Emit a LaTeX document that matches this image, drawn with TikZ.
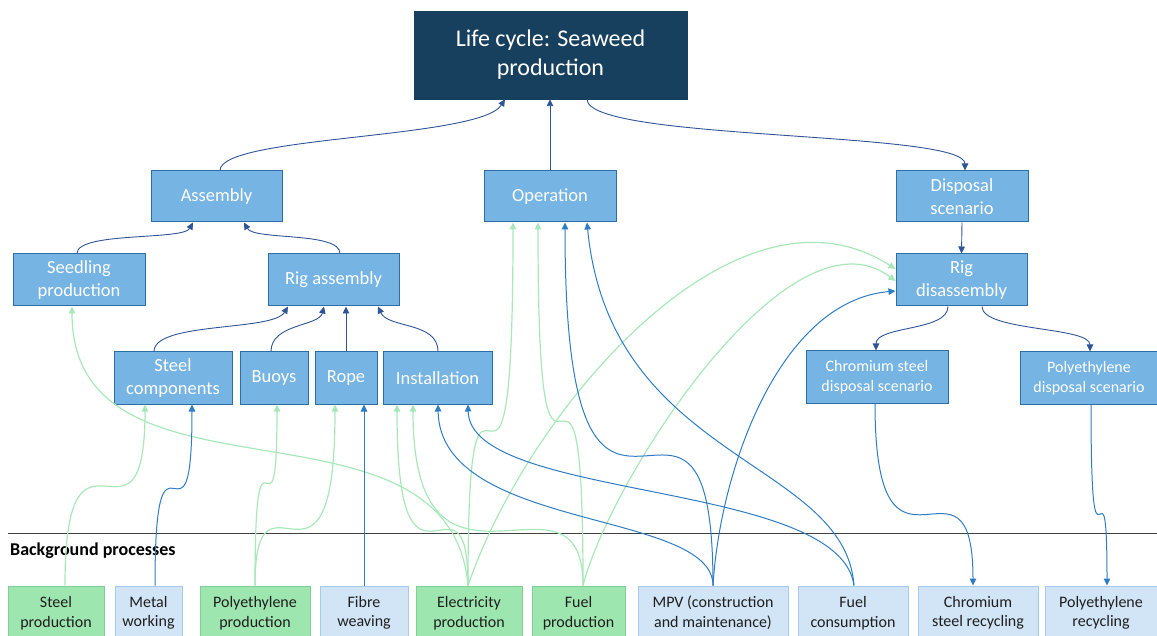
\documentclass[tikz,border=0pt]{standalone}
\usepackage{fontspec}
\setmainfont{Carlito}
\usepackage{tikz}
\usetikzlibrary{arrows.meta,positioning,calc}
\definecolor{navy}{HTML}{17405E}
\definecolor{midblue}{HTML}{75B4E3}
\definecolor{midrule}{HTML}{2F6EA5}
\definecolor{bggreen}{HTML}{9EE6AF}
\definecolor{bggreenrule}{HTML}{80CF96}
\definecolor{bgblue}{HTML}{D1E5F6}
\definecolor{bgbluerule}{HTML}{A5CAEB}
\definecolor{darkarr}{HTML}{2F5597}
\definecolor{bluearr}{HTML}{2E7CC4}
\definecolor{greenarr}{HTML}{A8E8B8}
\definecolor{sepline}{HTML}{404040}
\definecolor{inktext}{HTML}{1E1E1E}

\begin{document}
\begin{tikzpicture}[x=1pt, y=-1pt,
  box/.style={draw=midrule, fill=midblue, line width=1pt, text=white, minimum height=52pt,
              inner sep=0pt, align=center, font=\fontsize{18.5}{23}\selectfont},
  smallbox/.style={box, font=\fontsize{16}{20}\selectfont},
  headbox/.style={draw=navy, fill=navy, text=white, minimum width=273pt, minimum height=88pt,
              inner sep=0pt, align=center, font=\fontsize{24}{29}\selectfont},
  bgbox/.style={line width=1pt, minimum height=54pt, inner sep=0pt, align=center,
              text=inktext, font=\fontsize{16}{19.5}\selectfont},
  greenbox/.style={bgbox, draw=bggreenrule, fill=bggreen},
  bluebox/.style={bgbox, draw=bgbluerule, fill=bgblue},
  darr/.style={-{Triangle[length=7pt,width=6.5pt]}, draw=darkarr, line width=0.9pt},
  barr/.style={-{Triangle[length=7pt,width=6.5pt]}, draw=bluearr, line width=1pt},
  garr/.style={-{Triangle[length=7pt,width=6.5pt]}, draw=greenarr, line width=1.2pt}
]
\useasboundingbox (0,0) rectangle (1157,636);
\node[headbox] (top) at (550.5,55) {Life cycle: Seaweed\\production};
\node[box, minimum width=131pt, minimum height=51pt] (asm) at (216.5,196.5) {Assembly};
\node[box, minimum width=132pt, minimum height=51pt] (op) at (550,196.5) {Operation};
\node[box, minimum width=132pt, minimum height=51pt] (disp) at (962,196.5) {Disposal\\scenario};
\node[box, minimum width=132pt] (seed) at (79,280) {Seedling\\production};
\node[box, minimum width=131pt] (rig) at (333.5,280) {Rig assembly};
\node[box, minimum width=131pt] (rigd) at (961.5,280) {Rig\\disassembly};
\node[box, minimum width=118pt] (steel) at (173,378) {Steel\\components};
\node[box, minimum width=68pt] (buoys) at (274,378) {Buoys};
\node[box, minimum width=62pt] (rope) at (346,378) {Rope};
\node[box, minimum width=109pt] (inst) at (437.5,378) {Installation};
\node[smallbox, minimum width=142pt] (crd) at (877,377) {Chromium steel\\disposal scenario};
\node[smallbox, minimum width=138pt] (ped) at (1089,378) {Polyethylene\\disposal scenario};

\draw[sepline, line width=1pt] (8,533) -- (1157,533);
\node[anchor=west, inner sep=0pt, text=black, font=\bfseries\fontsize{18}{20}\selectfont] (bgp) at (10,551) {Background processes};

\node[greenbox, minimum width=96pt] (sp) at (56,613) {Steel\\production};
\node[bluebox, minimum width=67pt] (mw) at (148.5,613) {Metal\\working};
\node[greenbox, minimum width=110pt] (pp) at (255,613) {Polyethylene\\production};
\node[bluebox, minimum width=88pt] (fw) at (364,613) {Fibre\\weaving};
\node[greenbox, minimum width=106pt] (ep) at (469,613) {Electricity\\production};
\node[greenbox, minimum width=93pt] (fp) at (578.5,613) {Fuel\\production};
\node[bluebox, minimum width=150pt] (mpv) at (713,613) {MPV (construction\\and maintenance)};
\node[bluebox, minimum width=110pt] (fc) at (853,613) {Fuel\\consumption};
\node[bluebox, minimum width=120pt] (csr) at (978,613) {Chromium\\steel recycling};
\node[bluebox, minimum width=112pt] (per) at (1101,613) {Polyethylene\\recycling};

\draw[garr] ([xshift=9pt]sp.north) .. controls +(0,-196) and +(0,170) .. ([xshift=-28pt]steel.south);
\draw[garr] (pp.north) .. controls +(0,-200) and +(0,166) .. ([xshift=3pt]buoys.south);
\draw[garr] (pp.north) .. controls +(0,-138) and +(0,227) .. ([xshift=-11pt]rope.south);
\draw[garr] ([xshift=-1pt]ep.north) .. controls +(-18,-206) and +(0,215) .. ([xshift=-7pt]seed.south);
\draw[garr] ([xshift=-1pt]ep.north) .. controls +(0,-136) and +(0,230) .. ([xshift=-40.5pt]inst.south);
\draw[garr] ([xshift=-1pt]ep.north) .. controls +(0,-330) and +(0,400) .. ([xshift=-37pt]op.south);
\draw[garr] ([xshift=-1pt]ep.north) .. controls +(60,-175) and +(-160,-103) .. ([yshift=11pt]rigd.west);
\draw[garr] ([xshift=4.5pt]fp.north) .. controls +(0,-136) and +(0,230) .. ([xshift=-24.5pt]inst.south);
\draw[garr] ([xshift=4.5pt]fp.north) .. controls +(0,-343) and +(0,387) .. ([xshift=-12pt]op.south);
\draw[garr] ([xshift=4.5pt]fp.north) .. controls +(27,-106) and +(-106,-80) .. ([yshift=-1pt]rigd.west);

\draw[barr] ([xshift=6.5pt]mw.north) .. controls +(0,-193) and +(0,173) .. ([xshift=19pt]steel.south);
\draw[barr] (fw.north) -- (fw.north |- rope.south);
\draw[barr] (mpv.north) .. controls +(0,-76) and +(2,127) .. ([xshift=0.5pt]inst.south);
\draw[barr] ([xshift=1pt]fc.north) .. controls +(-14,-106) and +(2,97) .. ([xshift=30.5pt]inst.south);
\draw[barr] (mpv.north) .. controls +(0,-296) and +(0,433) .. ([xshift=15pt]op.south);
\draw[barr] ([xshift=1pt]fc.north) .. controls +(-9,-126) and +(23,239) .. ([xshift=37pt]op.south);
\draw[barr] (mpv.north) .. controls +(7,-116) and +(-116,10) .. ([yshift=-11pt]rigd.west);
\draw[barr] ([xshift=-2pt]crd.south) .. controls +(0,212) and +(0,-156) .. ([xshift=-5pt]csr.north);
\draw[barr] ([xshift=2pt]ped.south) .. controls +(0,210) and +(0,-156) .. ([xshift=6pt]per.north);

\draw[darr] ([xshift=3.5pt]asm.north) .. controls +(0,-35) and +(-25,40) .. ([xshift=-45.5pt]top.south);
\draw[darr] (op.north) -- (op.north |- top.south);
\draw[darr] ([xshift=36.5pt]top.south) .. controls +(0,42) and +(0,-40) .. ([xshift=3pt]disp.north);
\draw[darr] ([xshift=-2pt]seed.north) .. controls +(0,-22) and +(-10,18) .. ([xshift=-23.5pt]asm.south);
\draw[darr] ([xshift=6.5pt]rig.north) .. controls +(0,-22) and +(10,18) .. ([xshift=27.5pt]asm.south);
\draw[darr] (disp.south) -- (rigd.north);
\draw[darr] ([xshift=-19pt]steel.north) .. controls +(0,-30) and +(-15,25) .. ([xshift=-45.5pt]rig.south);
\draw[darr] ([xshift=-3pt]buoys.north) .. controls +(0,-28) and +(-5,20) .. ([xshift=-9.5pt]rig.south);
\draw[darr] (rope.north) -- (rope.north |- rig.south);
\draw[darr] ([xshift=0.5pt]inst.north) .. controls +(0,-30) and +(10,22) .. ([xshift=44.5pt]rig.south);
\draw[darr] ([xshift=-13.5pt]rigd.south) .. controls +(0,25) and +(0,-25) .. ([xshift=-1pt]crd.north);
\draw[darr] ([xshift=20.5pt]rigd.south) .. controls +(0,25) and +(0,-25) .. ([xshift=1pt]ped.north);
\end{tikzpicture}
\end{document}
